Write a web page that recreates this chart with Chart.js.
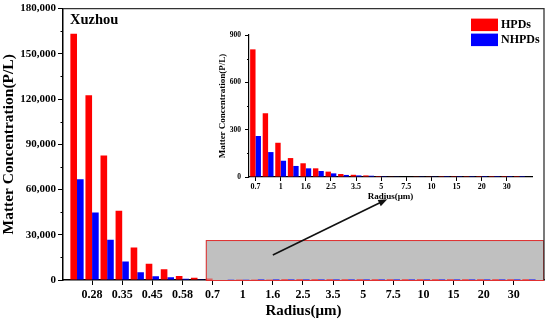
<!DOCTYPE html>
<html>
<head>
<meta charset="utf-8">
<script src="https://cdn.jsdelivr.net/npm/chart.js@4.4.0/dist/chart.umd.min.js"></script>
<style>
html, body { margin: 0; padding: 0; background: #fff; }
#wrap { position: relative; width: 550px; height: 323px; }
#mainChart { position: absolute; left: 0; top: 0; }
#insetChart { position: absolute; left: 200px; top: 22px; }
</style>
</head>
<body>
<div id="wrap">
<canvas id="mainChart" width="550" height="323"></canvas>
<canvas id="insetChart" width="345" height="185"></canvas>
</div>
<script>
// 반경 구간 라벨 (짝수 칸만 표시)
const radiusLabels = ['', '0.28', '', '0.35', '', '0.45', '', '0.58', '', '0.7', '', '1', '', '1.6', '', '2.5',
    '', '3.5', '', '5', '', '7.5', '', '10', '', '15', '', '20', '', '30', ''];
const hpds = [163300, 122600, 82500, 45900, 21600, 10800, 7050, 2650, 1500, 809, 404, 217, 120, 87, 55, 34,
    19, 14, 10, 6, 4, 3, 2, 2, 1, 1, 1, 0.5, 0.5, 0.5, 0.5];
const nhpds = [66850, 44800, 26700, 12350, 5100, 2450, 1750, 900, 500, 260, 158, 103, 70, 55, 38, 23,
    13, 10, 8, 5, 4, 3, 2, 2, 1, 1, 1, 0.5, 0.5, 0.5, 0.5];
const mainYTicks = [0, 30000, 60000, 90000, 120000, 150000, 180000];
const mainYMinor = [15000, 45000, 75000, 105000, 135000, 165000];
const insetYTicks = [0, 300, 600, 900];
const insetYMinor = [150, 450, 750];
const insetStart = 9; // 0.7 부터 확대 그림

const serif = "'Liberation Serif', 'Times New Roman', serif";
const RED = '#ff0000';
const BLUE = '#0000ff';

function toPoints(values, start) {
    return values.slice(start).map((v, i) => ({ x: i + 1, y: v }));
}

function labelTicks(start, step, count) {
    const out = [];
    for (let v = start; v <= count; v += step) out.push({ value: v });
    return out;
}

// 보조 눈금, 테두리, 확대 상자, 화살표, 제목, 범례
const decorPlugin = {
    id: 'decor',
    beforeDatasetsDraw(chart, args, opts) {
        const { ctx, chartArea: a, scales: { x, y } } = chart;
        if (opts.zoomBox) {
            const x0 = x.getPixelForValue(opts.zoomBox.from);
            const y0 = y.getPixelForValue(opts.zoomBox.top);
            ctx.save();
            ctx.fillStyle = '#c0c0c0';
            ctx.fillRect(x0, y0, a.right - x0, a.bottom - y0);
            ctx.strokeStyle = '#e03030';
            ctx.lineWidth = 1;
            ctx.strokeRect(x0 + 0.5, y0 + 0.5, a.right - x0 - 1, a.bottom - y0);
            ctx.restore();
        }
    },
    afterDraw(chart, args, opts) {
        const { ctx, chartArea: a, scales: { x, y } } = chart;
        ctx.save();
        // 보조 눈금
        ctx.strokeStyle = '#000';
        ctx.lineWidth = 1;
        (opts.minorY || []).forEach(v => {
            const py = Math.round(y.getPixelForValue(v)) + 0.5;
            ctx.beginPath();
            ctx.moveTo(a.left - opts.minorLen, py);
            ctx.lineTo(a.left, py);
            ctx.stroke();
        });
        if (opts.frame) {
            ctx.strokeStyle = '#333';
            ctx.lineWidth = 1.3;
            ctx.beginPath();
            ctx.moveTo(a.left, a.top);
            ctx.lineTo(a.right, a.top);
            ctx.lineTo(a.right, a.bottom);
            ctx.stroke();
        }
        if (opts.arrow) {
            const [p, q] = opts.arrow;
            const x1 = x.getPixelForValue(p[0]), y1 = y.getPixelForValue(p[1]);
            const x2 = x.getPixelForValue(q[0]), y2 = y.getPixelForValue(q[1]);
            const ang = Math.atan2(y2 - y1, x2 - x1);
            ctx.strokeStyle = '#111';
            ctx.fillStyle = '#111';
            ctx.lineWidth = 1.6;
            ctx.beginPath();
            ctx.moveTo(x1, y1);
            ctx.lineTo(x2 - 6 * Math.cos(ang), y2 - 6 * Math.sin(ang));
            ctx.stroke();
            ctx.beginPath();
            ctx.moveTo(x2, y2);
            ctx.lineTo(x2 - 9 * Math.cos(ang) + 3.5 * Math.sin(ang), y2 - 9 * Math.sin(ang) - 3.5 * Math.cos(ang));
            ctx.lineTo(x2 - 9 * Math.cos(ang) - 3.5 * Math.sin(ang), y2 - 9 * Math.sin(ang) + 3.5 * Math.cos(ang));
            ctx.closePath();
            ctx.fill();
        }
        if (opts.title) {
            ctx.fillStyle = '#000';
            ctx.font = 'bold 14.5px ' + serif;
            ctx.textBaseline = 'middle';
            ctx.textAlign = 'left';
            ctx.fillText(opts.title, a.left + 7, a.top + 12);
        }
        if (opts.legend) {
            ctx.font = 'bold 12px ' + serif;
            ctx.textBaseline = 'middle';
            ctx.textAlign = 'left';
            chart.data.datasets.forEach((ds, i) => {
                const top = a.top + 10 + i * 15;
                ctx.fillStyle = ds.backgroundColor;
                ctx.fillRect(a.right - 73, top, 27, 12.5);
                ctx.fillStyle = '#000';
                ctx.fillText(ds.label, a.right - 43, top + 6.5);
            });
        }
        ctx.restore();
    }
};

function makeAxes(cfg) {
    return {
        x: {
            type: 'linear',
            min: cfg.xMin,
            max: cfg.xMax,
            offset: false,
            afterBuildTicks: s => { s.ticks = labelTicks(cfg.firstTick, 2, cfg.count); },
            afterFit: s => { s.height = cfg.xHeight; },
            border: { color: '#000', width: cfg.axisWidth },
            grid: { display: true, drawOnChartArea: false, offset: false, tickLength: cfg.tickLen, tickColor: '#000', tickWidth: 1 },
            ticks: {
                autoSkip: false,
                maxRotation: 0,
                padding: cfg.xPad,
                color: '#000',
                font: { family: serif, weight: 'bold', size: cfg.xFont },
                callback: v => cfg.labels[v - 1] || ''
            },
            title: {
                display: true,
                text: 'Radius(μm)',
                color: '#000',
                padding: { top: 0, bottom: cfg.xTitlePad },
                font: { family: serif, weight: 'bold', size: cfg.xTitleFont }
            }
        },
        y: {
            min: 0,
            max: cfg.yMax,
            afterBuildTicks: s => { s.ticks = cfg.yTicks.map(v => ({ value: v })); },
            afterFit: s => { s.width = cfg.yWidth; },
            border: { color: '#000', width: cfg.axisWidth },
            grid: { display: true, drawOnChartArea: false, tickLength: cfg.tickLen, tickColor: '#000', tickWidth: 1 },
            ticks: {
                padding: cfg.yPad,
                color: '#000',
                font: { family: serif, weight: 'bold', size: cfg.yFont },
                callback: v => v.toLocaleString('en-US')
            },
            title: {
                display: true,
                text: 'Matter Concentration(P/L)',
                color: '#000',
                padding: { top: cfg.yTitlePad, bottom: 0 },
                font: { family: serif, weight: 'bold', size: cfg.yTitleFont }
            }
        }
    };
}

function makeDatasets(start, pct) {
    return [{
        label: 'HPDs',
        data: toPoints(hpds, start),
        backgroundColor: RED,
        borderWidth: 0,
        categoryPercentage: pct,
        barPercentage: 1
    }, {
        label: 'NHPDs',
        data: toPoints(nhpds, start),
        backgroundColor: BLUE,
        borderWidth: 0,
        categoryPercentage: pct,
        barPercentage: 1
    }];
}

// 메인 차트
new Chart(document.getElementById('mainChart'), {
    type: 'bar',
    data: { datasets: makeDatasets(0, 0.88) },
    options: {
        responsive: false,
        animation: false,
        layout: { padding: { top: 8, right: 6, left: 0, bottom: 0 } },
        scales: makeAxes({
            xMin: 0.07, xMax: 32, firstTick: 2, count: radiusLabels.length, labels: radiusLabels,
            xHeight: 43, yWidth: 63, axisWidth: 1.5, tickLen: 5, xPad: 3, yPad: 2,
            xFont: 12, yFont: 11, xTitleFont: 15, yTitleFont: 15.5, xTitlePad: 3, yTitlePad: 0,
            yMax: 180000, yTicks: mainYTicks
        }),
        plugins: {
            legend: { display: false },
            tooltip: { enabled: false },
            decor: {
                minorY: mainYMinor,
                minorLen: 2.5,
                frame: true,
                zoomBox: { from: 9.55, top: 26500 },
                arrow: [[14.0, 16550], [21.6, 53600]],
                title: 'Xuzhou',
                legend: true
            }
        }
    },
    plugins: [decorPlugin]
});

// 확대 차트 (0.7 이상)
const insetLabels = radiusLabels.slice(insetStart);
new Chart(document.getElementById('insetChart'), {
    type: 'bar',
    data: { datasets: makeDatasets(insetStart, 0.86) },
    options: {
        responsive: false,
        animation: false,
        layout: { padding: { top: 13, right: 13, left: 0, bottom: 0 } },
        scales: makeAxes({
            xMin: 0.48, xMax: 23, firstTick: 1, count: insetLabels.length, labels: insetLabels,
            xHeight: 30, yWidth: 49, axisWidth: 1.2, tickLen: 4, xPad: 1, yPad: 4,
            xFont: 8, yFont: 7.5, xTitleFont: 9, yTitleFont: 9, xTitlePad: 5, yTitlePad: 17,
            yMax: 900, yTicks: insetYTicks
        }),
        plugins: {
            legend: { display: false },
            tooltip: { enabled: false },
            decor: { minorY: insetYMinor, minorLen: 2 }
        }
    },
    plugins: [decorPlugin]
});
</script>
</body>
</html>
